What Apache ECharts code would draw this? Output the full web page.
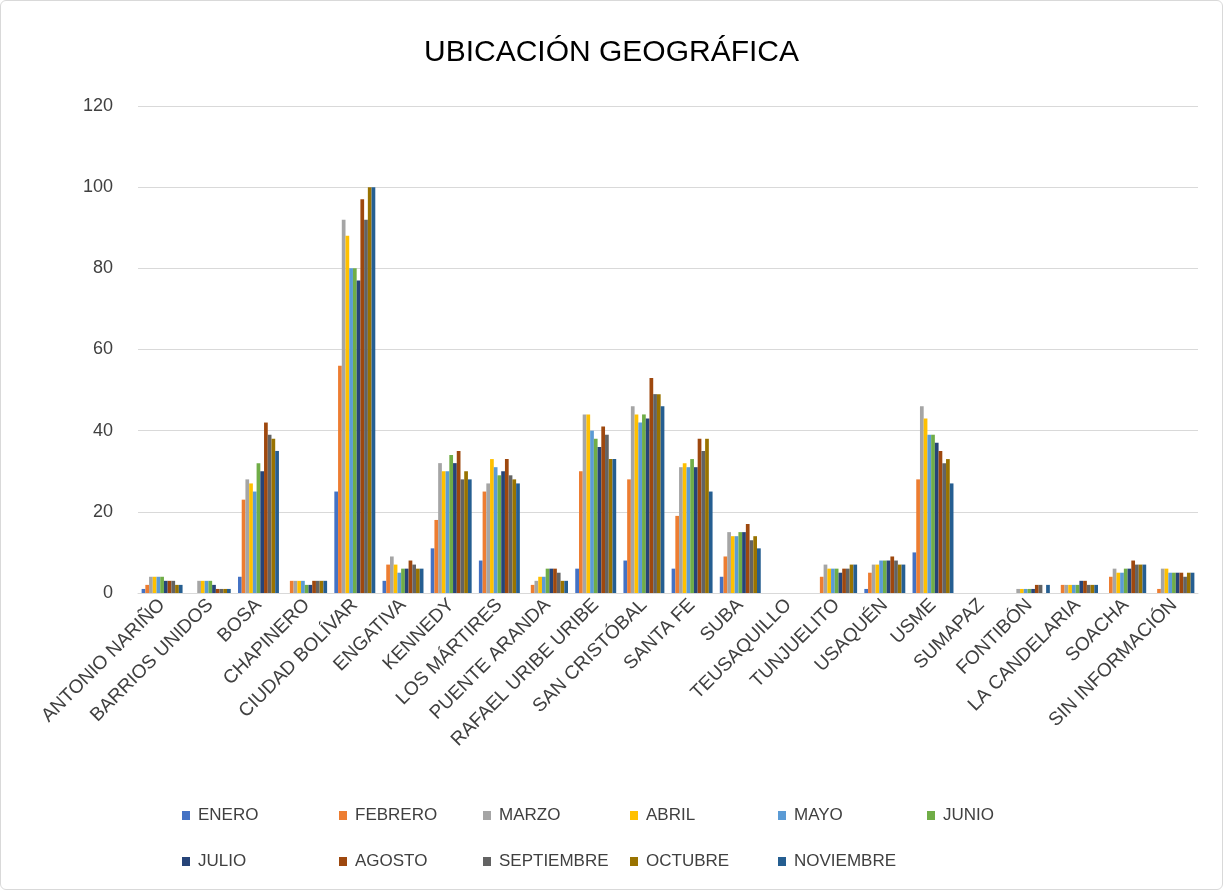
<!DOCTYPE html>
<html><head><meta charset="utf-8">
<script src="https://cdn.jsdelivr.net/npm/echarts@6/dist/echarts.min.js"></script>
<style>html,body{margin:0;padding:0;background:#fff}#c{width:1223px;height:890px;box-sizing:border-box;border:1px solid #d9d9d9;border-radius:6px}</style>
</head><body><div id="c"></div>
<script>
const categories = ["ANTONIO NARIÑO","BARRIOS UNIDOS","BOSA","CHAPINERO","CIUDAD BOLÍVAR","ENGATIVA","KENNEDY","LOS MÁRTIRES","PUENTE ARANDA","RAFAEL URIBE URIBE","SAN CRISTÓBAL","SANTA FE","SUBA","TEUSAQUILLO","TUNJUELITO","USAQUÉN","USME","SUMAPAZ","FONTIBÓN","LA CANDELARIA","SOACHA","SIN INFORMACIÓN"];
const seriesNames = ["ENERO","FEBRERO","MARZO","ABRIL","MAYO","JUNIO","JULIO","AGOSTO","SEPTIEMBRE","OCTUBRE","NOVIEMBRE"];
const colors = ["#4472C4","#ED7D31","#A5A5A5","#FFC000","#5B9BD5","#70AD47","#264478","#9E480E","#636363","#997300","#255E91"];
// values per category, in month order ENERO..NOVIEMBRE
const antonioNarino   = [1,2,4,4,4,4,3,3,3,2,2];
const barriosUnidos   = [0,0,3,3,3,3,2,1,1,1,1];
const bosa            = [4,23,28,27,25,32,30,42,39,38,35];
const chapinero       = [0,3,3,3,3,2,2,3,3,3,3];
const ciudadBolivar   = [25,56,92,88,80,80,77,97,92,100,100];
const engativa        = [3,7,9,7,5,6,6,8,7,6,6];
const kennedy         = [11,18,32,30,30,34,32,35,28,30,28];
const losMartires     = [8,25,27,33,31,29,30,33,29,28,27];
const puenteAranda    = [0,2,3,4,4,6,6,6,5,3,3];
const rafaelUribe     = [6,30,44,44,40,38,36,41,39,33,33];
const sanCristobal    = [8,28,46,44,42,44,43,53,49,49,46];
const santaFe         = [6,19,31,32,31,33,31,38,35,38,25];
const suba            = [4,9,15,14,14,15,15,17,13,14,11];
const teusaquillo     = [0,0,0,0,0,0,0,0,0,0,0];
const tunjuelito      = [0,4,7,6,6,6,5,6,6,7,7];
const usaquen         = [1,5,7,7,8,8,8,9,8,7,7];
const usme            = [10,28,46,43,39,39,37,35,32,33,27];
const sumapaz         = [0,0,0,0,0,0,0,0,0,0,0];
const fontibon        = [0,0,1,1,1,1,1,2,2,0,2];
const laCandelaria    = [0,2,2,2,2,2,3,3,2,2,2];
const soacha          = [0,4,6,5,5,6,6,8,7,7,7];
const sinInformacion  = [0,1,6,6,5,5,5,5,4,5,5];
const yTicks = [0,20,40,60,80,100,120];

const rows = [antonioNarino,barriosUnidos,bosa,chapinero,ciudadBolivar,engativa,kennedy,losMartires,puenteAranda,rafaelUribe,sanCristobal,santaFe,suba,teusaquillo,tunjuelito,usaquen,usme,sumapaz,fontibon,laCandelaria,soacha,sinInformacion];

const font = "Liberation Sans";
const series = seriesNames.map((n,i)=>({
  name:n, type:'bar', data: rows.map(r=>r[i]),
  itemStyle:{color:colors[i]}, barGap:'0%', barCategoryGap:'15%'
}));

const legendLefts = [176,333,477,624,772,921];
const legends = seriesNames.map((n,i)=>({
  data:[n], left: legendLefts[i%6], top: i<6 ? 801 : 847,
  icon:'rect', itemWidth:8, itemHeight:9, itemGap:0,
  textStyle:{fontFamily:font,fontSize:17,color:'#404040',padding:[0,0,0,3]}
}));

const chart = echarts.init(document.getElementById('c'));
chart.setOption({
  animation:false,
  color:colors,
  title:{text:'UBICACIÓN GEOGRÁFICA',left:'center',top:32,textStyle:{fontFamily:font,fontSize:30,fontWeight:'normal',color:'#000'}},
  legend:legends,
  grid:{left:137,right:24,top:105,bottom:296,containLabel:false},
  xAxis:{type:'category',data:categories,
    axisLine:{lineStyle:{color:'#d9d9d9'}},axisTick:{show:false},
    axisLabel:{rotate:45,interval:0,fontFamily:font,fontSize:19,color:'#404040',margin:9}},
  yAxis:{type:'value',min:yTicks[0],max:yTicks[yTicks.length-1],interval:20,
    axisLine:{show:false},axisTick:{show:false},
    splitLine:{lineStyle:{color:'#d9d9d9',width:1}},
    axisLabel:{fontFamily:font,fontSize:18,color:'#404040',margin:25}},
  series:series
});
</script></body></html>
